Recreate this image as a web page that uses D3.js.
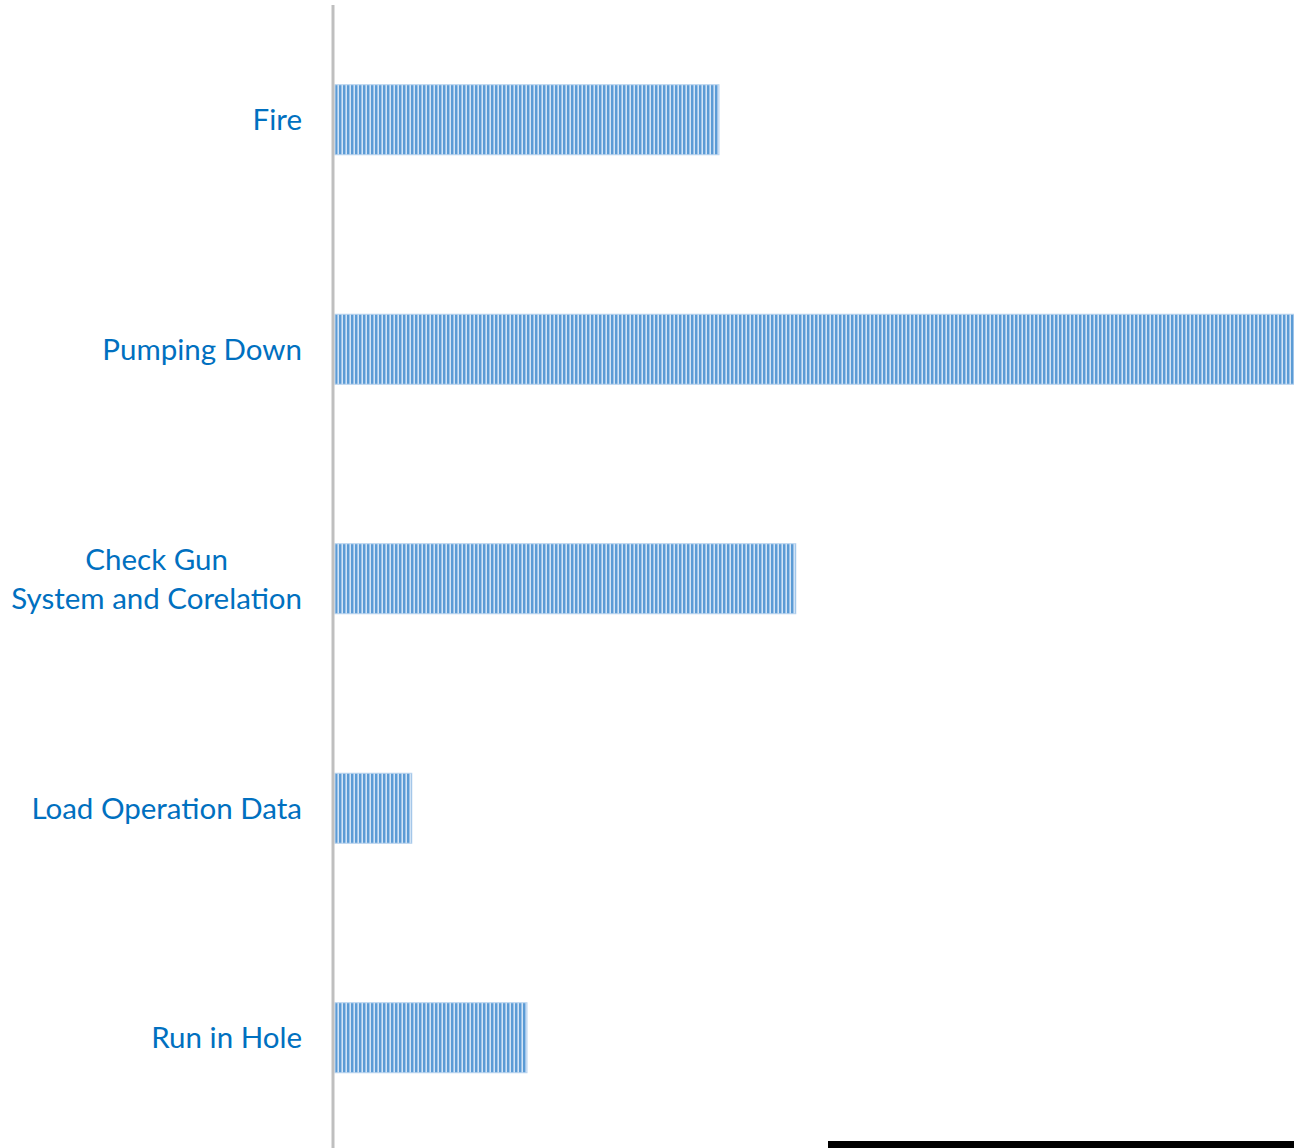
<!DOCTYPE html>
<html>
<head>
<meta charset="utf-8">
<script src="https://cdn.jsdelivr.net/npm/d3@7"></script>
<style>
  body { margin: 0; background: #fff; }
  svg { display: block; }
</style>
</head>
<body>
<svg id="chart" width="1294" height="1148"></svg>
<script>
// categories top to bottom
const tasks = ["Fire", "Pumping Down", "Check Gun\nSystem and Corelation", "Load Operation Data", "Run in Hole"];
const durations = [10, 25, 12, 2, 5];

const width = 1294, height = 1148;
const svg = d3.select("#chart");
const labelColor = "#0070c0";

const y = d3.scaleBand()
  .domain(tasks)
  .range([5, 1152.5])
  .paddingInner(0.695)
  .paddingOuter(0.3475);

const x = d3.scaleLinear().domain([0, 25]).range([335, 1295]);

// striped fill
const defs = svg.append("defs");
const pat = defs.append("pattern")
  .attr("id", "stripes")
  .attr("patternUnits", "userSpaceOnUse")
  .attr("x", 335)
  .attr("width", 4)
  .attr("height", 10);
pat.append("rect").attr("width", 4).attr("height", 10).attr("fill", "#d3e4f5");
pat.append("rect").attr("width", 3).attr("height", 10).attr("fill", "#9fc4e9");
pat.append("rect").attr("width", 2).attr("height", 10).attr("fill", "#5b9bd5");

const rows = tasks.map((t, i) => ({ task: t, value: durations[i] }));

svg.append("g")
  .selectAll("rect")
  .data(rows)
  .join("rect")
  .attr("x", x(0))
  .attr("y", (d) => y(d.task))
  .attr("width", (d) => x(d.value) - x(0))
  .attr("height", y.bandwidth())
  .attr("fill", "url(#stripes)")
  .attr("stroke", "#b7d2ee")
  .attr("stroke-width", 1);

// vertical axis line
svg.append("line")
  .attr("x1", 333).attr("x2", 333)
  .attr("y1", 5).attr("y2", height)
  .attr("stroke", "#bfbfbf")
  .attr("stroke-width", 3);

// category labels
const labels = svg.append("g")
  .attr("font-family", "Lato, sans-serif")
  .attr("font-size", 29.5)
  .attr("fill", labelColor);

const lineGap = 39;
rows.forEach((d) => {
  const lines = d.task.split("\n");
  const cy = y(d.task) + y.bandwidth() / 2;
  const g = labels.append("g");
  const texts = lines.map((ln, j) =>
    g.append("text")
      .attr("y", cy + (j - (lines.length - 1) / 2) * lineGap)
      .attr("dy", "0.35em")
      .text(ln)
  );
  if (lines.length === 1) {
    texts[0].attr("x", 302).attr("text-anchor", "end");
  } else {
    const w = d3.max(texts, (t) => t.node().getComputedTextLength());
    texts.forEach((t) => t.attr("x", 302 - w / 2).attr("text-anchor", "middle"));
  }
});

// black strip along the bottom edge
svg.append("rect")
  .attr("x", 828)
  .attr("y", 1141)
  .attr("width", width - 828)
  .attr("height", 7)
  .attr("fill", "#000");
</script>
</body>
</html>
